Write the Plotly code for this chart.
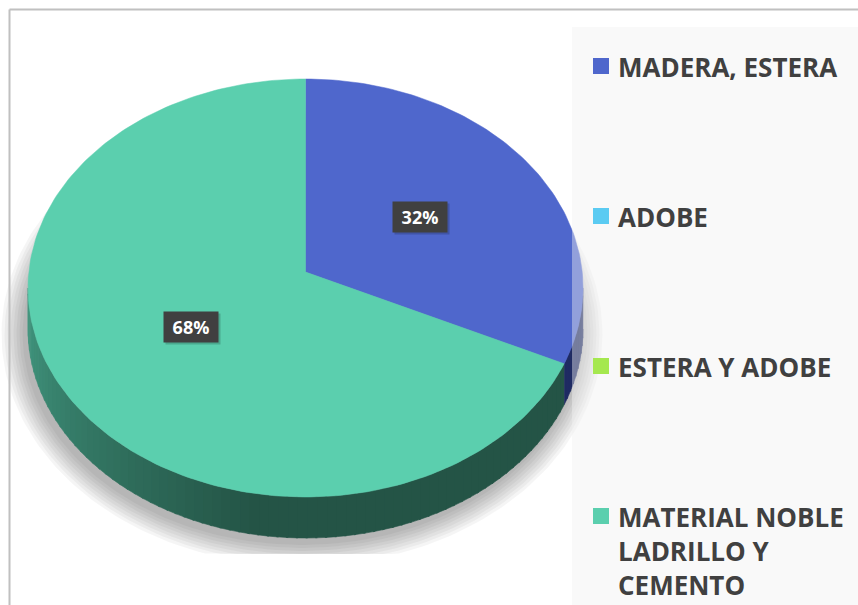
import numpy as np
import plotly.graph_objects as go

# ---------------- data ----------------
categories = ["MADERA, ESTERA", "ADOBE", "ESTERA Y ADOBE", "MATERIAL NOBLE LADRILLO Y CEMENTO"]
legend_labels = ["MADERA, ESTERA", "ADOBE", "ESTERA Y ADOBE", "MATERIAL NOBLE<br>LADRILLO Y<br>CEMENTO"]
values = [32, 0, 0, 68]
pct_labels = ["32%", "", "", "68%"]

# ---------------- style ----------------
top_colors = ["#4F67CC", "#5BCBF2", "#A5E84F", "#5BCFAE"]
side_dark = [(30, 42, 98), (40, 120, 150), (90, 140, 40), (36, 84, 70)]
side_light = [(30, 42, 98), (40, 120, 150), (90, 140, 40), (66, 152, 128)]

W, H = 858, 605
CX, CY, RX, RY = 305.5, 288.0, 277.5, 209.0   # top ellipse
VY = 272.0                                     # apex of slices (perspective)
DEPTH = 41.0
CLIP_Y = 554.0


def ray_point(theta_deg):
    """Point on top ellipse hit by ray from apex at angle theta (clockwise from top)."""
    t = np.radians(theta_deg)
    dx, dy = np.sin(t), -np.cos(t)
    oy = (VY - CY) / RY
    b = oy * dy
    s = -b + np.sqrt(b * b - (oy * oy - 1))
    u, v = s * dx, oy + s * dy
    return CX + RX * u, CY + RY * v, np.degrees(np.arctan2(u, -v)) % 360


def ell(phi_deg, dy=0.0):
    p = np.radians(phi_deg)
    return CX + RX * np.sin(p), CY - RY * np.cos(p) + dy


fig = go.Figure()

# ---------------- shadow ----------------
for k in range(8):
    grow = 2 + k * 3.0
    ph = np.linspace(0, 360, 240)
    sx = 302 + (RX + grow) * np.sin(np.radians(ph))
    sy = 334 - (RY + grow) * np.cos(np.radians(ph))
    sy = np.minimum(sy, CLIP_Y)
    fig.add_trace(go.Scatter(x=sx, y=sy, mode="lines", fill="toself",
                             fillcolor="rgba(0,0,0,0.038)", line=dict(width=0),
                             hoverinfo="skip", showlegend=False))

# ---------------- slices geometry ----------------
total = float(sum(values))
angles = np.concatenate([[0], np.cumsum(values) / total * 360.0])

# sides (front half: ellipse params 90..270)
for i, val in enumerate(values):
    if val <= 0:
        continue
    a0, a1 = angles[i], angles[i + 1]
    _, _, p0 = ray_point(a0)
    _, _, p1 = ray_point(a1)
    if a1 >= 360:
        p1 = 360.0
    lo, hi = max(p0, 90.0), min(p1, 270.0)
    if hi <= lo:
        continue
    nb = max(1, int((hi - lo) / 2.0))
    edges = np.linspace(lo, hi, nb + 1)
    for j in range(nb):
        e0, e1 = edges[j], min(edges[j + 1] + 0.4, hi)
        mid = 0.5 * (e0 + e1)
        tt = np.clip((mid - 190.0) / 80.0, 0, 1)
        c = [int(side_dark[i][m] + (side_light[i][m] - side_dark[i][m]) * tt) for m in range(3)]
        col = "rgb(%d,%d,%d)" % tuple(c)
        ph = np.linspace(e0, e1, 6)
        xt, yt = ell(ph)
        xb, yb = ell(ph[::-1], DEPTH)
        fig.add_trace(go.Scatter(x=np.concatenate([xt, xb]), y=np.concatenate([yt, yb]),
                                 mode="lines", fill="toself", fillcolor=col,
                                 line=dict(width=0.6, color=col),
                                 hoverinfo="skip", showlegend=False))

# top faces
for i, val in enumerate(values):
    if val <= 0:
        continue
    th = np.linspace(angles[i], angles[i + 1], max(3, int(val * 3)))
    pts = [ray_point(t) for t in th]
    xs = [CX] + [p[0] for p in pts] + [CX]
    ys = [VY] + [p[1] for p in pts] + [VY]
    fig.add_trace(go.Scatter(x=xs, y=ys, mode="lines", fill="toself",
                             fillcolor=top_colors[i], line=dict(width=0.5, color=top_colors[i]),
                             name=categories[i], hoverinfo="name", showlegend=False))

# ---------------- frame & legend panel ----------------
shapes = [
    dict(type="rect", xref="x", yref="y", x0=572, x1=W, y0=27, y1=H,
         fillcolor="rgba(240,240,240,0.42)", line=dict(width=0), layer="above"),
    dict(type="line", xref="x", yref="y", x0=9.5, x1=W, y0=9.5, y1=9.5,
         line=dict(color="#C0C0C0", width=2), layer="above"),
    dict(type="line", xref="x", yref="y", x0=9.5, x1=9.5, y0=9.5, y1=H,
         line=dict(color="#C0C0C0", width=2), layer="above"),
]
annotations = []

LEG_X0, LEG_Y0, LEG_STEP, SQ = 593, 66, 150, 16
for i, lab in enumerate(legend_labels):
    yc = LEG_Y0 + i * LEG_STEP
    shapes.append(dict(type="rect", xref="x", yref="y", x0=LEG_X0, x1=LEG_X0 + SQ,
                       y0=yc - SQ / 2, y1=yc + SQ / 2, fillcolor=top_colors[i],
                       line=dict(width=0), layer="above"))
    annotations.append(dict(x=616, y=yc - 19, xref="x", yref="y", text=lab,
                            showarrow=False, xanchor="left", yanchor="top", align="left",
                            font=dict(family="Open Sans", size=26, color="#404040", weight="bold")))

# percentage labels
for i, val in enumerate(values):
    if val <= 0:
        continue
    m = np.radians(0.5 * (angles[i] + angles[i + 1]))
    lx = CX + 0.49 * RX * np.sin(m)
    ly = VY - 0.49 * RY * np.cos(m)
    annotations.append(dict(x=lx + 2, y=ly + 2, xref="x", yref="y", text="",
                            showarrow=False, width=52, height=28,
                            bgcolor="rgba(0,0,0,0.18)"))
    annotations.append(dict(x=lx, y=ly, xref="x", yref="y", text=pct_labels[i],
                            showarrow=False, width=52, height=28, bgcolor="#404040",
                            font=dict(family="Open Sans", size=18, color="white", weight="bold")))

fig.update_layout(
    width=W, height=H, margin=dict(l=0, r=0, t=0, b=0, pad=0),
    paper_bgcolor="white", plot_bgcolor="white",
    xaxis=dict(range=[0, W], visible=False, fixedrange=True, domain=[0, 1]),
    yaxis=dict(range=[H, 0], visible=False, fixedrange=True, domain=[0, 1]),
    shapes=shapes, annotations=annotations, showlegend=False,
)

fig.write_html("out.html", config={"displayModeBar": False},
               post_script="document.body.style.margin='0';document.body.style.overflow='hidden';")
